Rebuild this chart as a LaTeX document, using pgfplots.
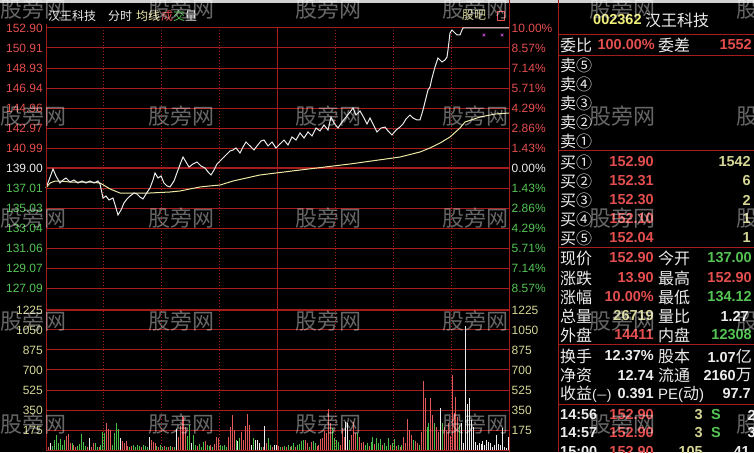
\documentclass[border=0pt]{standalone}
\usepackage{pgfplots}
\usepackage{pgfplotstable}
\pgfplotsset{compat=1.18}
\usepackage{fontspec}
\setmainfont{Liberation Sans}
\newfontfamily\cjk{Noto Sans CJK SC}
\definecolor{gridred}{RGB}{165,28,28}
\definecolor{lred}{RGB}{228,78,78}
\definecolor{lgreen}{RGB}{84,196,84}
\definecolor{khaki}{RGB}{214,214,150}
\definecolor{avgyel}{RGB}{236,232,165}
\definecolor{lwhite}{RGB}{236,236,236}
\definecolor{barred}{RGB}{226,88,88}
\definecolor{bargreen}{RGB}{72,192,72}
\definecolor{hdryel}{RGB}{240,240,120}
\definecolor{mag}{RGB}{190,70,200}
\newcommand\axf{\fontsize{12}{14}\selectfont}
\newcommand\lab{\fontsize{16}{18}\selectfont\cjk\color{lwhite}}
\newcommand\nf{\fontsize{14.5}{16}\selectfont\bfseries}
\newcommand\hdr{\fontsize{12}{14}\selectfont\cjk}

\pgfplotstableread{
m p
0 137.02
1.56 137.81
3.63 138.90
5.18 138.21
7.26 137.51
8.81 137.81
10.37 138.01
12.44 137.61
14.51 137.81
16.59 137.51
18.66 137.71
20.73 137.51
22.81 137.71
24.88 137.51
26.95 137.71
27.99 137.41
29.55 136.02
31.10 136.22
32.66 135.83
34.73 136.02
36.29 135.03
37.32 134.34
38.88 134.83
40.43 135.53
41.99 135.93
43.54 136.22
45.62 136.52
47.17 136.42
48.73 136.12
50.28 135.93
51.84 136.42
53.91 137.02
55.46 137.81
56.50 138.51
58.06 138.01
59.61 138.21
61.17 137.51
62.72 137.22
64.28 137.12
66.35 137.71
68.42 138.80
69.98 139.60
71.02 140.09
72.57 139.60
74.13 139.10
76.20 139.40
78.27 139.60
80.35 139.20
82.42 139.00
83.97 138.61
85.53 138.31
87.08 138.80
88.64 139.40
90.71 139.80
92.27 140.09
93.82 140.39
95.38 140.69
96.93 140.79
98.49 140.99
100.56 140.49
102.12 141.09
103.67 141.58
105.75 141.19
107.82 140.79
109.37 141.19
111.45 141.68
113.00 141.78
115.08 141.19
117.15 141.58
119.22 140.99
121.30 141.39
123.37 141.78
125.44 141.29
127.52 142.08
129.59 141.78
131.66 142.48
133.74 141.98
135.81 142.58
137.88 142.18
139.96 142.97
142.03 142.68
144.10 143.27
146.18 142.77
147.73 144.06
149.29 143.47
151.36 142.97
153.43 143.57
155.51 144.06
157.58 144.56
159.14 144.96
160.69 144.26
162.77 144.66
164.84 143.97
166.39 143.37
167.95 143.97
170.02 143.17
171.58 142.58
173.65 142.97
175.72 143.07
177.28 142.68
179.35 142.28
181.43 142.77
183.50 143.07
185.05 143.37
186.61 143.87
188.68 144.26
190.24 143.97
192.31 143.77
193.87 143.77
195.42 144.76
196.98 145.95
198.01 146.75
199.05 147.04
200.09 147.94
201.64 149.03
203.20 149.92
204.23 149.72
205.27 149.53
206.83 149.72
207.86 150.02
208.38 150.72
209.42 152.40
210.45 152.70
212.01 152.40
213.05 152.21
214.60 152.21
215.64 152.70
216.16 152.90
240 152.90
}\pricetab

\pgfplotstableread{
m a
0 137.02
2.07 137.51
4.67 137.71
7.26 137.71
12.44 137.61
17.62 137.61
22.81 137.61
27.99 137.51
30.58 137.22
33.18 136.92
35.77 136.72
38.36 136.52
43.54 136.52
53.91 136.52
64.28 136.62
69.46 136.72
74.64 136.92
79.83 137.12
85.01 137.22
90.19 137.31
96.93 137.71
110.93 138.31
131.66 138.80
157.58 139.40
183.50 140.09
193.87 140.59
199.05 140.99
204.23 141.48
209.42 142.08
214.60 142.97
217.19 143.57
224.97 144.06
232.74 144.36
240 144.46
}\avgtab

\pgfplotstableread{
m v
1 30
10 125
11 140
12 58
14 44
15 29
21 29
23 29
24 58
27 30
31 233
32 181
33 175
39 82
40 64
41 82
42 35
44 35
49 29
54 88
55 73
56 58
58 29
61 35
63 25
65 30
68 117
69 210
70 300
71 292
72 204
78 35
82 82
85 44
87 50
88 117
89 102
94 117
95 204
96 306
97 175
101 155
102 88
103 213
104 315
105 219
112 25
114 64
117 30
120 35
122 30
124 29
126 30
129 30
134 88
135 58
137 73
140 35
141 44
142 93
143 102
144 166
145 146
146 356
147 233
152 44
153 190
154 117
158 131
159 248
160 146
162 117
163 58
164 73
167 35
170 50
174 40
178 44
181 35
183 29
185 117
186 64
187 271
188 175
189 131
191 82
192 58
194 160
195 604
196 458
199 452
200 306
202 204
203 155
206 204
207 175
208 233
209 120
210 656
211 321
212 467
213 292
}\volr

\pgfplotstableread{
m v
0 300
3 35
4 88
5 131
6 58
7 93
8 44
9 88
13 64
16 35
17 50
18 140
19 73
20 35
25 64
26 23
28 44
29 155
30 146
34 44
35 146
36 233
37 181
43 29
45 40
46 30
47 44
48 35
50 40
51 35
52 30
57 35
59 40
60 30
62 29
64 35
66 25
73 125
74 219
76 131
77 40
79 50
80 29
81 73
83 40
84 35
86 29
90 44
91 35
92 40
93 29
98 88
100 102
107 102
111 30
115 102
116 44
121 25
123 35
125 40
127 35
128 64
130 44
131 50
132 79
133 88
136 30
138 82
139 58
148 190
149 102
150 88
151 73
157 88
161 146
165 44
166 58
168 73
169 111
171 102
172 64
173 93
175 58
176 35
177 102
179 58
180 93
182 44
184 44
190 88
193 44
197 204
198 233
201 233
205 233
214 219
}\volg

\pgfplotstableread{
m v
2 64
22 102
38 102
53 117
67 181
75 58
99 82
106 44
108 88
109 88
110 58
113 213
118 47
119 44
155 248
156 239
204 370
215 233
216 58
217 1085
218 400
219 458
220 263
221 204
222 73
223 40
224 58
225 53
226 82
227 44
228 88
229 73
230 64
231 29
232 44
233 131
234 53
235 44
236 195
237 29
238 20
239 117
}\volw

\pgfplotsset{
  panelx/.style={
    scale only axis, width=463pt, xmin=0, xmax=240,
    major tick length=0pt,
    xtick={120}, xticklabels={},
    extra x ticks={30,60,90,150,180,210},
    extra x tick labels={},
    extra x tick style={grid=major, major grid style={gridred, line width=1pt, dash pattern=on 1pt off 2pt}},
  },
  pricey/.style={
    ymin=124.906, ymax=152.90,
    ytick={127.0857,129.0714,131.0571,133.0429,135.0286,137.0143,140.9857,142.9714,144.9571,146.9429,148.9286,150.9143,152.9},
  },
}

\begin{document}
\begin{tikzpicture}
\useasboundingbox (0,0) rectangle (754pt,452pt);
\clip (0,0) rectangle (754pt,452pt);
\fill[black] (0,0) rectangle (754pt,452pt);
\fill[black!18] (0,449pt) rectangle (754pt,452pt);

% price panel
\begin{axis}[panelx, pricey,
  at={(46pt,142pt)}, anchor=south west, height=282pt,
  clip=false,
  axis line style={gridred, line width=1pt},
  yticklabels={{\color{lgreen}127.09},{\color{lgreen}129.07},{\color{lgreen}131.06},{\color{lgreen}133.04},{\color{lgreen}135.03},{\color{lgreen}137.01},{\color{lred}140.99},{\color{lred}142.97},{\color{lred}144.96},{\color{lred}146.94},{\color{lred}148.93},{\color{lred}150.91},{\color{lred}152.90}},
  extra y ticks={139},
  extra y tick labels={{\color{lwhite}139.00}},
  extra y tick style={grid=major, major grid style={gridred, line width=2pt}},
  xmajorgrids, ymajorgrids,
  major grid style={gridred, line width=1pt},
  yticklabel style={font=\axf, anchor=east, inner sep=0pt, xshift=-3pt},
]
\addplot[avgyel, line width=1pt] table[x=m, y=a] {\avgtab};
\addplot[lwhite, line width=1pt] table[x=m, y=p] {\pricetab};
\addplot[only marks, mark=x, mark size=1.8pt, mag, line width=0.8pt] coordinates {(227,152.2) (236.4,152.2)};
\end{axis}

% percent labels
\begin{axis}[pricey,
  scale only axis, width=463pt, xmin=0, xmax=240,
  at={(46pt,142pt)}, anchor=south west, height=282pt,
  axis line style={draw=none}, major tick length=0pt, xtick=\empty,
  yticklabels={{\color{lgreen}8.57\%},{\color{lgreen}7.14\%},{\color{lgreen}5.71\%},{\color{lgreen}4.29\%},{\color{lgreen}2.86\%},{\color{lgreen}1.43\%},{\color{lred}1.43\%},{\color{lred}2.86\%},{\color{lred}4.29\%},{\color{lred}5.71\%},{\color{lred}7.14\%},{\color{lred}8.57\%},{\color{lred}10.00\%}},
  extra y ticks={139}, extra y tick labels={{\color{lwhite}0.00\%}},
  yticklabel pos=right,
  yticklabel style={font=\axf, anchor=west, inner sep=0pt, xshift=2.5pt},
]
\addplot[draw=none] coordinates {(0,139)};
\end{axis}

% volume panel
\begin{axis}[panelx,
  at={(46pt,2pt)}, anchor=south west, height=140pt,
  ymin=0, ymax=1225, clip=false,
  axis line style={gridred, line width=1pt},
  ytick={175,350,525,700,875,1050},
  yticklabels={175,350,525,700,875,1050},
  extra y ticks={1225}, extra y tick labels={1225},
  extra y tick style={grid=major, major grid style={gridred, line width=2pt}},
  xmajorgrids, ymajorgrids,
  major grid style={gridred, line width=1pt},
  yticklabel style={font=\axf, color=khaki, anchor=east, inner sep=0pt, xshift=-3pt},
]
\addplot[ycomb, barred, line width=1pt] table[x expr=\thisrow{m}+0.5, y=v] {\volr};
\addplot[ycomb, bargreen, line width=1pt] table[x expr=\thisrow{m}+0.5, y=v] {\volg};
\addplot[ycomb, lwhite, line width=1pt] table[x expr=\thisrow{m}+0.5, y=v] {\volw};
\end{axis}

% volume right labels
\begin{axis}[
  scale only axis, width=463pt, xmin=0, xmax=240,
  at={(46pt,2pt)}, anchor=south west, height=140pt,
  ymin=0, ymax=1225,
  axis line style={draw=none}, major tick length=0pt, xtick=\empty,
  ytick={175,350,525,700,875,1050,1225},
  yticklabels={175,350,525,700,875,1050,1225},
  yticklabel pos=right,
  yticklabel style={font=\axf, color=khaki, anchor=west, inner sep=0pt, xshift=2.5pt},
]
\addplot[draw=none] coordinates {(0,0)};
\end{axis}

\begin{scope}[shift={(0pt,452pt)}, x=1pt, y=-1pt]
  % frame lines
  \draw[gridred, line width=1pt] (46,24) -- (46,450);
  \draw[gridred, line width=1pt] (509.5,0) -- (509.5,452);
  \draw[gridred, line width=1pt] (558,0) -- (558,452);
  \foreach \ly in {35,56,151,248,345,405}
    \draw[gridred, line width=1pt] (558,\ly) -- (754,\ly);

  % chart header
  \node[anchor=west, inner sep=0pt] at (48,16) {\hdr\color{lwhite}汉王科技};
  \node[anchor=west, inner sep=0pt] at (108,16) {\hdr\color{lwhite}分时};
  \node[anchor=west, inner sep=0pt] at (136,16) {\hdr\color{avgyel}均线};
  \node[anchor=west, inner sep=0pt] at (161,16) {\hdr{\color{lred}成}{\color{lgreen}交}{\color{lwhite}量}};
  \node[anchor=west, inner sep=0pt] at (462,15) {\hdr\color{khaki}股吧};
  \draw[lred, line width=0.8pt] (497,11) rectangle (504,20);

  % right panel
  \node[anchor=west, inner sep=0pt] at (593,20) {\nf\color{hdryel}002362};
  \node[anchor=west, inner sep=0pt] at (645,20) {\lab 汉王科技};

  \node[anchor=west, inner sep=0pt] at (560,45) {\lab 委比};
  \node[anchor=east, inner sep=0pt] at (655,45) {\nf\color{lred}100.00\%};
  \node[anchor=west, inner sep=0pt] at (658,45) {\lab 委差};
  \node[anchor=east, inner sep=0pt] at (752,45) {\nf\color{lred}1552};

  \node[anchor=west, inner sep=0pt] at (560,65) {\lab 卖⑤};
  \node[anchor=west, inner sep=0pt] at (560,84) {\lab 卖④};
  \node[anchor=west, inner sep=0pt] at (560,103) {\lab 卖③};
  \node[anchor=west, inner sep=0pt] at (560,122) {\lab 卖②};
  \node[anchor=west, inner sep=0pt] at (560,141) {\lab 卖①};

  \node[anchor=west, inner sep=0pt] at (560,162) {\lab 买①};
  \node[anchor=east, inner sep=0pt] at (654,162) {\nf\color{lred}152.90};
  \node[anchor=east, inner sep=0pt] at (751,162) {\nf\color{khaki}1542};
  \node[anchor=west, inner sep=0pt] at (560,181) {\lab 买②};
  \node[anchor=east, inner sep=0pt] at (654,181) {\nf\color{lred}152.31};
  \node[anchor=east, inner sep=0pt] at (751,181) {\nf\color{khaki}6};
  \node[anchor=west, inner sep=0pt] at (560,200) {\lab 买③};
  \node[anchor=east, inner sep=0pt] at (654,200) {\nf\color{lred}152.30};
  \node[anchor=east, inner sep=0pt] at (751,200) {\nf\color{khaki}2};
  \node[anchor=west, inner sep=0pt] at (560,219) {\lab 买④};
  \node[anchor=east, inner sep=0pt] at (654,219) {\nf\color{lred}152.10};
  \node[anchor=east, inner sep=0pt] at (751,219) {\nf\color{khaki}1};
  \node[anchor=west, inner sep=0pt] at (560,238) {\lab 买⑤};
  \node[anchor=east, inner sep=0pt] at (654,238) {\nf\color{lred}152.04};
  \node[anchor=east, inner sep=0pt] at (751,238) {\nf\color{khaki}1};

  \node[anchor=west, inner sep=0pt] at (560,258) {\lab 现价};
  \node[anchor=east, inner sep=0pt] at (654,258) {\nf\color{lred}152.90};
  \node[anchor=west, inner sep=0pt] at (658,258) {\lab 今开};
  \node[anchor=east, inner sep=0pt] at (752,258) {\nf\color{lgreen}137.00};

  \node[anchor=west, inner sep=0pt] at (560,278) {\lab 涨跌};
  \node[anchor=east, inner sep=0pt] at (654,278) {\nf\color{lred}13.90};
  \node[anchor=west, inner sep=0pt] at (658,278) {\lab 最高};
  \node[anchor=east, inner sep=0pt] at (752,278) {\nf\color{lred}152.90};

  \node[anchor=west, inner sep=0pt] at (560,297) {\lab 涨幅};
  \node[anchor=east, inner sep=0pt] at (654,297) {\nf\color{lred}10.00\%};
  \node[anchor=west, inner sep=0pt] at (658,297) {\lab 最低};
  \node[anchor=east, inner sep=0pt] at (752,297) {\nf\color{lgreen}134.12};

  \node[anchor=west, inner sep=0pt] at (560,316) {\lab 总量};
  \node[anchor=east, inner sep=0pt] at (654,316) {\nf\color{khaki}26719};
  \node[anchor=west, inner sep=0pt] at (658,316) {\lab 量比};
  \node[anchor=east, inner sep=0pt] at (749,316) {\nf\color{lwhite}1.27};

  \node[anchor=west, inner sep=0pt] at (560,335) {\lab 外盘};
  \node[anchor=east, inner sep=0pt] at (654,335) {\nf\color{lred}14411};
  \node[anchor=west, inner sep=0pt] at (658,335) {\lab 内盘};
  \node[anchor=east, inner sep=0pt] at (752,335) {\nf\color{lgreen}12308};

  \node[anchor=west, inner sep=0pt] at (560,356) {\lab 换手};
  \node[anchor=east, inner sep=0pt] at (654,356) {\nf\color{lwhite}12.37\%};
  \node[anchor=west, inner sep=0pt] at (658,356) {\lab 股本};
  \node[anchor=east, inner sep=0pt] at (752,356) {{\nf\color{lwhite}1.07}{\lab 亿}};

  \node[anchor=west, inner sep=0pt] at (560,375) {\lab 净资};
  \node[anchor=east, inner sep=0pt] at (654,375) {\nf\color{lwhite}12.74};
  \node[anchor=west, inner sep=0pt] at (658,375) {\lab 流通};
  \node[anchor=east, inner sep=0pt] at (752,375) {{\nf\color{lwhite}2160}{\lab 万}};

  \node[anchor=west, inner sep=0pt] at (560,394) {{\lab 收益}{\fontsize{14}{16}\selectfont\color{lwhite}(}{\fontsize{10}{12}\selectfont\cjk\color{lwhite}一}{\fontsize{14}{16}\selectfont\color{lwhite})}};
  \node[anchor=east, inner sep=0pt] at (654,394) {\nf\color{lwhite}0.391};
  \node[anchor=west, inner sep=0pt] at (658,394) {{\fontsize{15}{17}\selectfont\color{lwhite}PE(}{\lab 动}{\fontsize{15}{17}\selectfont\color{lwhite})}};
  \node[anchor=east, inner sep=0pt] at (751,394) {\nf\color{lwhite}97.7};

  \node[anchor=west, inner sep=0pt] at (560,415) {\nf\color{lwhite}14:56};
  \node[anchor=east, inner sep=0pt] at (654,415) {\nf\color{lred}152.90};
  \node[anchor=east, inner sep=0pt] at (703,415) {\nf\color{khaki}3};
  \node[anchor=west, inner sep=0pt] at (711,415) {\nf\color{lgreen}S};
  \node[anchor=east, inner sep=0pt] at (756,415) {\nf\color{lwhite}2};

  \node[anchor=west, inner sep=0pt] at (560,433) {\nf\color{lwhite}14:57};
  \node[anchor=east, inner sep=0pt] at (654,433) {\nf\color{lred}152.90};
  \node[anchor=east, inner sep=0pt] at (703,433) {\nf\color{khaki}3};
  \node[anchor=west, inner sep=0pt] at (711,433) {\nf\color{lgreen}S};
  \node[anchor=east, inner sep=0pt] at (756,433) {\nf\color{lwhite}3};

  \node[anchor=west, inner sep=0pt] at (560,452) {\nf\color{lwhite}15:00};
  \node[anchor=east, inner sep=0pt] at (654,452) {\nf\color{lred}152.90};
  \node[anchor=east, inner sep=0pt] at (703,452) {\nf\color{khaki}105};
  \node[anchor=east, inner sep=0pt] at (750,452) {\nf\color{lwhite}41};

  % watermarks
  \foreach \wy in {9,116,218,321,424}
    \foreach \wx in {33,181,328,475,622,769}
      \node[opacity=0.40, text=white, inner sep=0pt] at (\wx,\wy) {\fontsize{22}{24}\selectfont\cjk 股旁网};
\end{scope}
\end{tikzpicture}
\end{document}
